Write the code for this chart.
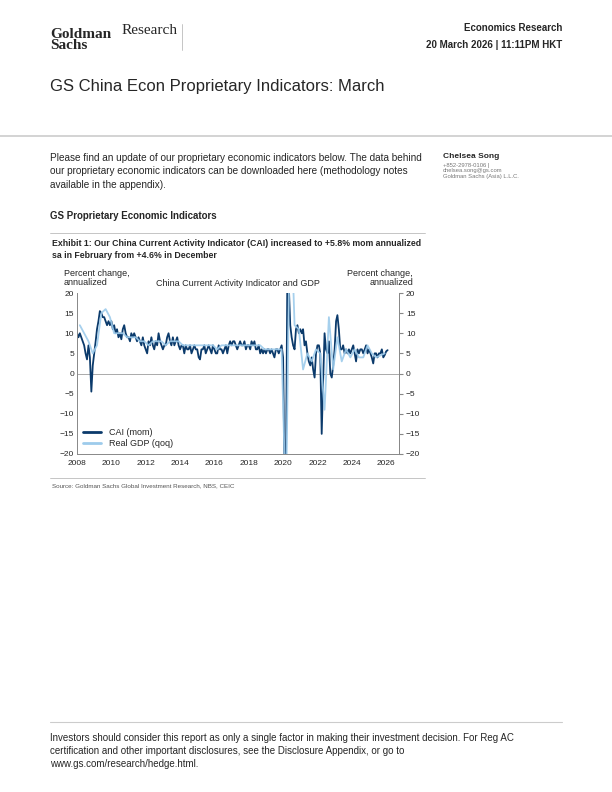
import numpy as np, pandas as pd, matplotlib
matplotlib.use("Agg")
import matplotlib.pyplot as plt, seaborn as sns
import matplotlib.dates as mdates
from matplotlib.lines import Line2D

cai_2008_2025 = [
 10,9,10,9,8,7,5,3.5,7,4,-4.5,2,
 5,8,11,13,15.5,15,14,14,13,12,13,12,
 13,11,12,10,11,9,10,8.5,11,12,10,9,
 9,8,10,9,10,9,8,9,8,7,9,7,
 6,5,8,7,9,7,6,8,7,10,8,7,
 6,7,7,9,10,8,7,9,7,8,9,7,
 6,7,7,5,7,6,6,7,5,6,7,6,
 6,4,3.5,6,6,7,5,6,7,6,5,7,
 6,5,5,7,6,6,5,6,7,5,7,8,
 7,8,8,7,6,7,8,7,7,8,6,7,
 7,6,8,7,8,6,6,7,5,6,5,6,
 5,6,6,5,6,5,4,6,6,5,6,7,
 4,-25,-25,25,22,12,9,7,6,11,12,10,
 11,10,11,7,8,5,3,2,4,1,-1,5,
 7,7,5,-15,-2,10,6,5,8,0,-1,2,
 6,13,14.5,11,6,6,7,5,6,5,6,5,
 6,7,5,3,6,5,6,6,5,6,7,5,
 6,5,4,2.5,5,5,4,5,5,6,4,4.6]
cai_2026 = [5.5, 5.8]
cai_values = cai_2008_2025 + cai_2026
gdp_values = [12,10,8,5, 7,15,16,14, 10,10,10,9, 9,9,8,8, 7,8,8,8, 7,8,8,8,
 7,7,7,7, 7,7,7,7, 6,7,7,7, 7,7,7,7, 7,7,7,6, 6,6,6,6,
 -34,45,12,11, 1,5,3,6, 5,-9,14,1, 9,3,6,4, 6,4,4,7, 5,4,4.5,5]
year_ticks = list(range(2008, 2027, 2))
y_ticks = [-20,-15,-10,-5,0,5,10,15,20]

cai = pd.DataFrame({"date": pd.date_range("2008-01-01", periods=len(cai_values), freq="MS"), "v": cai_values})
gdp = pd.DataFrame({"date": pd.date_range("2008-02-15", periods=len(gdp_values), freq="3MS"), "v": gdp_values})

sns.set_style("white")
plt.rcParams['font.family'] = ['Liberation Sans', 'DejaVu Sans']
fig = plt.figure(figsize=(6.12, 7.92), dpi=100)
navy = "#0b3a6b"; light = "#9dcbeb"

ax = fig.add_axes([77/612, 1-454/792, 322/612, 161/792])
sns.lineplot(data=cai, x="date", y="v", ax=ax, color=navy, lw=1.3)
sns.lineplot(data=gdp, x="date", y="v", ax=ax, color=light, lw=1.3, alpha=0.9)
ax.axhline(0, color="#aaaaaa", lw=0.7, zorder=0)
ax.set_ylim(-20, 20); ax.set_yticks(y_ticks)
ax.set_xlim(pd.Timestamp("2008-01-01"), pd.Timestamp("2026-10-01"))
ax.set_xticks([pd.Timestamp(f"{y}-01-01") for y in year_ticks])
ax.xaxis.set_major_formatter(mdates.DateFormatter("%Y"))
ax.set_xlabel(""); ax.set_ylabel("")
ax.spines["top"].set_visible(False)
for s in ["left","right","bottom"]: ax.spines[s].set_color("#888888"); ax.spines[s].set_linewidth(0.7)
ax.tick_params(labelsize=6, length=0, pad=2)
ax.tick_params(axis="x", length=2, color="#888888")
ax2 = ax.twinx(); ax2.set_ylim(-20,20); ax2.set_yticks(y_ticks)
ax2.tick_params(labelsize=6, length=3, color="#888888", pad=2)
for s in ["top","left","bottom"]: ax2.spines[s].set_visible(False)
ax2.spines["right"].set_color("#888888"); ax2.spines["right"].set_linewidth(0.7)
ax2.grid(False); ax.grid(False)
ax.legend(handles=[Line2D([],[],color=navy,lw=2), Line2D([],[],color=light,lw=2)],
          labels=["CAI (mom)","Real GDP (qoq)"], loc="lower left", frameon=False, fontsize=6.5,
          handlelength=2, borderaxespad=0.3, labelspacing=0.2)
fig.text(64/612, 1-287/792, "Percent change,\nannualized", fontsize=6.5, va="bottom", linespacing=1.0)
fig.text(413/612, 1-287/792, "Percent change,\nannualized", fontsize=6.5, va="bottom", ha="right", linespacing=1.0, multialignment="right")
fig.text(238/612, 1-286/792, "China Current Activity Indicator and GDP", fontsize=6.5, ha="center")

def T(x, y, s, **k): fig.text(x/612, 1-y/792, s, **k)
T(50, 40, "Goldman\nSachs", fontsize=11, fontweight="bold", family="Liberation Serif", linespacing=0.75, va="center")
T(122, 30, "Research", fontsize=11, family="Liberation Serif", va="center")
fig.add_artist(Line2D([182/612]*2,[1-24/792, 1-50/792], color="#bbbbbb", lw=0.6))
T(562, 28, "Economics Research", fontsize=7, fontweight="bold", ha="right", va="center")
T(562, 45, "20 March 2026 | 11:11PM HKT", fontsize=7, fontweight="bold", ha="right", va="center")
T(50, 86, "GS China Econ Proprietary Indicators: March", fontsize=12, va="center")
fig.add_artist(Line2D([0,1],[1-136/792]*2, color="#cccccc", lw=1.2))
T(50, 158, "Please find an update of our proprietary economic indicators below. The data behind", fontsize=7.2, va="center")
T(50, 171, "our proprietary economic indicators can be downloaded here (methodology notes", fontsize=7.2, va="center")
T(50, 185, "available in the appendix).", fontsize=7.2, va="center")
T(443, 156, "Chelsea Song", fontsize=6, fontweight="bold", va="center")
T(443, 163, "+852-2978-0106 |\nchelsea.song@gs.com\nGoldman Sachs (Asia) L.L.C.", fontsize=4.2, color="#777777", va="top", linespacing=1.1)
T(50, 216, "GS Proprietary Economic Indicators", fontsize=7, fontweight="bold", va="center")
fig.add_artist(Line2D([50/612,425/612],[1-233/792]*2, color="#bbbbbb", lw=0.6))
T(52, 243, "Exhibit 1: Our China Current Activity Indicator (CAI) increased to +5.8% mom annualized", fontsize=6.3, fontweight="bold", va="center")
T(52, 255, "sa in February from +4.6% in December", fontsize=6.3, fontweight="bold", va="center")
fig.add_artist(Line2D([50/612,425/612],[1-478/792]*2, color="#bbbbbb", lw=0.6))
T(52, 486, "Source: Goldman Sachs Global Investment Research, NBS, CEIC", fontsize=4.5, color="#555555", va="center")
fig.add_artist(Line2D([50/612,562/612],[1-722/792]*2, color="#cccccc", lw=0.8))
T(50, 738, "Investors should consider this report as only a single factor in making their investment decision. For Reg AC", fontsize=7, va="center")
T(50, 751, "certification and other important disclosures, see the Disclosure Appendix, or go to", fontsize=7, va="center")
T(50, 764, "www.gs.com/research/hedge.html.", fontsize=7, va="center")
fig.savefig("out.png", dpi=100)
